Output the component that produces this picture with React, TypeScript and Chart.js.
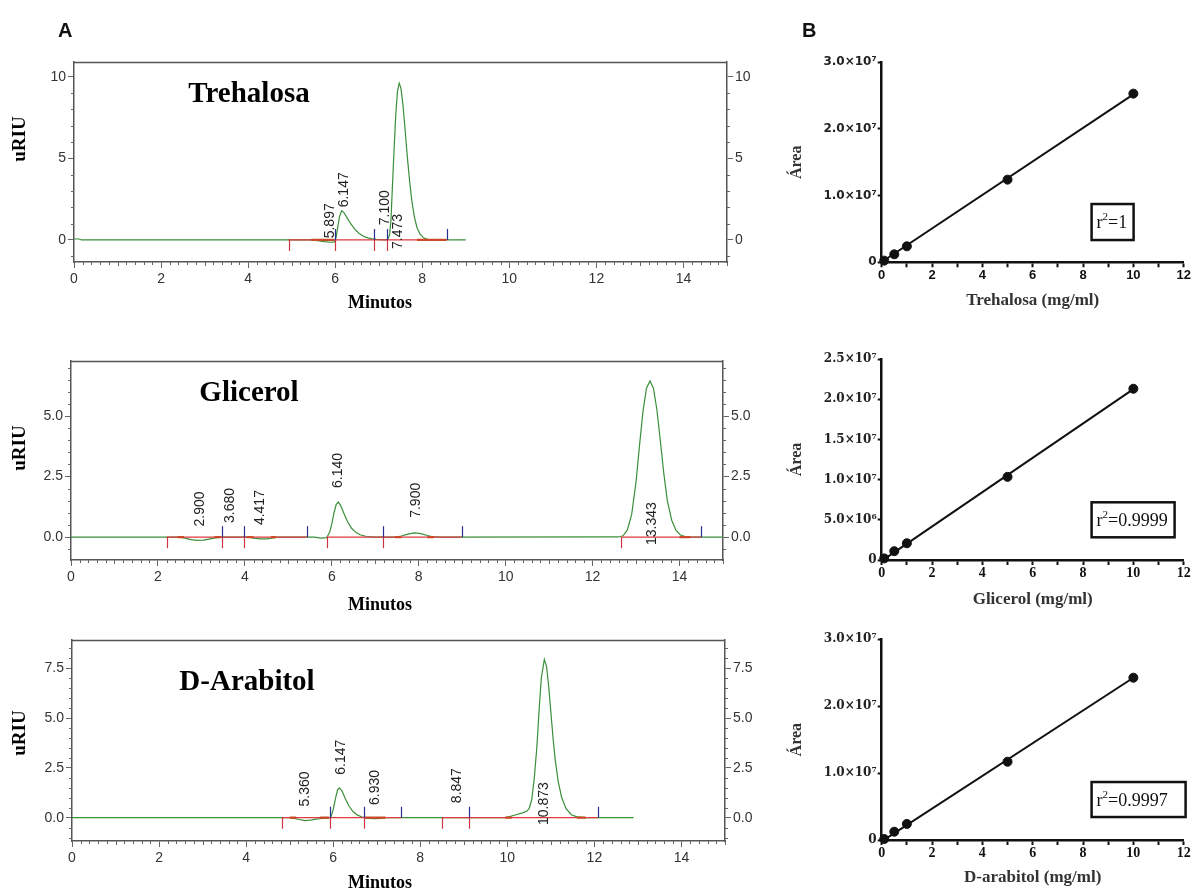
import { useEffect, useRef } from 'react';
import { Chart, registerables } from 'chart.js';

Chart.register(...registerables);

type Pt = [number, number];

// ================= DATA =================
// ---- Panel A: chromatogram traces (time in min, signal in uRIU) ----
const trehalosaTrace: Pt[] = [
  [0, 0.06], [0.12, 0.06], [0.17, 0], [1, 0], [3, 0], [5.45, 0], [5.6, -0.04], [5.75, -0.1], [5.9, -0.14], [5.98, -0.12],
  [6.02, 0.15], [6.06, 0.8], [6.1, 1.45], [6.15, 1.79], [6.2, 1.68], [6.28, 1.32], [6.36, 0.98], [6.45, 0.66], [6.55, 0.4],
  [6.65, 0.23], [6.75, 0.13], [6.85, 0.07], [6.95, 0.04], [7.05, 0.02], [7.15, 0], [7.2, 0.02], [7.25, 0.3], [7.28, 1.2],
  [7.31, 3.0], [7.35, 5.4], [7.39, 7.6], [7.43, 9.1], [7.47, 9.6], [7.51, 9.3], [7.56, 8.2], [7.61, 6.6], [7.66, 5.0],
  [7.71, 3.6], [7.76, 2.4], [7.82, 1.4], [7.88, 0.75], [7.95, 0.35], [8.03, 0.13], [8.12, 0.04], [8.25, 0.01], [8.5, 0], [9.0, 0],
];
const trehalosaBaselines: Pt[] = [[4.93, 8.57]];
const trehalosaFills: Pt[] = [[5.45, 5.97], [7.88, 8.55]];
const trehalosaRedMarks = [4.93, 6.0, 6.9, 7.19];
const trehalosaBlueMarks = [6.0, 6.9, 7.19, 8.57];
const trehalosaRtText = ['5.897', '6.147', '7.100', '7.473'];
const trehalosaRtX = [5.89, 6.2, 7.15, 7.45];
const trehalosaRtY = [0.1, 2.0, 0.9, -0.55];

const glicerolTrace: Pt[] = [
  [0, 0], [2, 0], [2.5, 0], [2.6, -0.03], [2.75, -0.1], [2.9, -0.13], [3.05, -0.12], [3.2, -0.07], [3.35, -0.02], [3.5, 0],
  [4.1, 0], [4.2, -0.04], [4.35, -0.07], [4.5, -0.07], [4.65, -0.03], [4.75, 0], [5.6, 0], [5.75, -0.04], [5.88, -0.02],
  [5.95, 0.2], [6.0, 0.55], [6.05, 1.0], [6.1, 1.35], [6.15, 1.45], [6.2, 1.32], [6.28, 0.98], [6.36, 0.65], [6.45, 0.38],
  [6.55, 0.2], [6.65, 0.1], [6.8, 0.03], [7.0, 0], [7.45, 0], [7.6, 0.05], [7.75, 0.13], [7.9, 0.18], [8.05, 0.15],
  [8.2, 0.07], [8.35, 0.01], [8.5, 0], [12.6, 0.01], [12.7, 0.06], [12.8, 0.3], [12.9, 0.95], [13.0, 2.3], [13.08, 3.8],
  [13.16, 5.2], [13.24, 6.15], [13.32, 6.45], [13.4, 6.15], [13.48, 5.25], [13.56, 3.95], [13.64, 2.6], [13.72, 1.5],
  [13.82, 0.7], [13.92, 0.28], [14.02, 0.09], [14.15, 0.02], [14.3, 0], [15, 0],
];
const glicerolBaselines: Pt[] = [[2.2, 5.43], [5.88, 8.99], [12.66, 14.5]];
const glicerolFills: Pt[] = [[2.45, 2.6], [3.3, 3.45], [4.05, 4.2], [4.6, 4.72], [7.45, 7.6], [8.2, 8.35], [14.0, 14.25]];
const glicerolRedMarks = [2.2, 3.48, 3.98, 5.88, 7.18, 12.66];
const glicerolBlueMarks = [3.48, 3.98, 5.43, 7.18, 8.99, 14.5];
const glicerolRtText = ['2.900', '3.680', '4.417', '6.140', '7.900', '13.343'];
const glicerolRtX = [2.97, 3.67, 4.36, 6.14, 7.93, 13.38];
const glicerolRtY = [0.44, 0.59, 0.5, 2.03, 0.8, -0.32];

const arabitolTrace: Pt[] = [
  [0, 0], [2, 0], [4.8, 0], [5.0, 0], [5.1, -0.03], [5.22, -0.09], [5.35, -0.15], [5.48, -0.12], [5.6, -0.07], [5.75, -0.04],
  [5.88, -0.04], [5.95, 0.05], [6.0, 0.4], [6.05, 0.95], [6.1, 1.4], [6.14, 1.5], [6.2, 1.35], [6.28, 0.95], [6.36, 0.6],
  [6.45, 0.32], [6.55, 0.14], [6.65, 0.05], [6.72, 0], [6.8, -0.04], [6.95, -0.05], [7.1, -0.04], [7.2, 0], [9.95, 0],
  [10.05, 0.05], [10.2, 0.15], [10.35, 0.24], [10.45, 0.33], [10.5, 0.45], [10.56, 0.9], [10.62, 2.0], [10.68, 3.6],
  [10.73, 5.4], [10.78, 7.0], [10.85, 7.95], [10.9, 7.6], [10.95, 6.6], [11.0, 5.3], [11.05, 4.0], [11.1, 2.9], [11.17, 1.8],
  [11.25, 1.0], [11.35, 0.45], [11.47, 0.15], [11.6, 0.04], [11.8, 0], [12.9, 0],
];
const arabitolBaselines: Pt[] = [[4.82, 7.56], [8.5, 12.08]];
const arabitolFills: Pt[] = [[5.0, 5.15], [5.7, 5.9], [6.72, 7.2], [9.95, 10.1], [11.6, 11.8]];
const arabitolRedMarks = [4.82, 5.93, 6.71, 8.5, 9.13];
const arabitolBlueMarks = [5.93, 6.71, 7.56, 9.13, 12.08];
const arabitolRtText = ['5.360', '6.147', '6.930', '8.847', '10.873'];
const arabitolRtX = [5.35, 6.18, 6.97, 8.84, 10.85];
const arabitolRtY = [0.56, 2.16, 0.64, 0.73, -0.37];

// ---- Panel B: calibration curves ----
const concentration = [0.1, 0.5, 1, 5, 10];
const trehalosaArea = [0.25e6, 1.2e6, 2.4e6, 12.4e6, 25.3e6];
const glicerolArea = [0.2e6, 1.1e6, 2.08e6, 10.34e6, 21.3e6];
const arabitolArea = [0.15e6, 1.24e6, 2.4e6, 11.7e6, 24.26e6];
const fitConc = [0, 10];
const trehalosaFit = [0.05e6, 25.2e6];
const glicerolFit = [-0.1e6, 21.25e6];
const arabitolFit = [-0.2e6, 24.25e6];
const r2Values = ['1', '0.9999', '0.9997'];

// ================= LAYOUT / STYLE =================
const SANS = '"Liberation Sans", Arial, sans-serif';
const SERIF = '"Liberation Serif", "Times New Roman", serif';

const chromPanels = [
  {
    left: 0, top: 0, w: 770, h: 320, padTop: 62, leftW: 74, rightW: 43, bottomH: 58,
    yMin: -1.35, yMax: 10.9, yStep: 5, yMinor: 1, yDecimals: 0,
    title: 'Trehalosa', titleX: 249, titleBase: 102, yTitleY: 139, xTitleY: 303, letter: 'A',
    trace: trehalosaTrace, baselines: trehalosaBaselines, fills: trehalosaFills,
    red: trehalosaRedMarks, blue: trehalosaBlueMarks, rtText: trehalosaRtText, rtX: trehalosaRtX, rtY: trehalosaRtY,
  },
  {
    left: 0, top: 320, w: 770, h: 300, padTop: 41, leftW: 71, rightW: 47, bottomH: 60,
    yMin: -0.94, yMax: 7.27, yStep: 2.5, yMinor: 0.5, yDecimals: 1,
    title: 'Glicerol', titleX: 249, titleBase: 401, yTitleY: 448, xTitleY: 605, letter: '',
    trace: glicerolTrace, baselines: glicerolBaselines, fills: glicerolFills,
    red: glicerolRedMarks, blue: glicerolBlueMarks, rtText: glicerolRtText, rtX: glicerolRtX, rtY: glicerolRtY,
  },
  {
    left: 0, top: 620, w: 770, h: 270, padTop: 20, leftW: 72, rightW: 45, bottomH: 49,
    yMin: -1.17, yMax: 8.92, yStep: 2.5, yMinor: 0.5, yDecimals: 1,
    title: 'D-Arabitol', titleX: 247, titleBase: 690, yTitleY: 733, xTitleY: 883, letter: '',
    trace: arabitolTrace, baselines: arabitolBaselines, fills: arabitolFills,
    red: arabitolRedMarks, blue: arabitolBlueMarks, rtText: arabitolRtText, rtX: arabitolRtX, rtY: arabitolRtY,
  },
];

const calibPanels = [
  {
    left: 770, top: 0, w: 422, h: 320, padTop: 62.3, padRight: 8.3, leftW: 111.7, bottomH: 57.7,
    yMax: 3e7, yStep: 1e7, xTitle: 'Trehalosa (mg/ml)', xTitlePad: 8.7, sans: true,
    area: trehalosaArea, fit: trehalosaFit, r2: r2Values[0], boxX: 8.34, boxY: 0.604e7, boxW: 42, boxH: 36, letter: 'B',
  },
  {
    left: 770, top: 320, w: 422, h: 300, padTop: 39, padRight: 8.3, leftW: 111.7, bottomH: 60,
    yMax: 2.5e7, yStep: 5e6, xTitle: 'Glicerol (mg/ml)', xTitlePad: 10.4, sans: false,
    area: glicerolArea, fit: glicerolFit, r2: r2Values[1], boxX: 8.34, boxY: 0.5e7, boxW: 83, boxH: 35, letter: '',
  },
  {
    left: 770, top: 620, w: 422, h: 270, padTop: 19.3, padRight: 8.3, leftW: 111.7, bottomH: 50,
    yMax: 3e7, yStep: 1e7, xTitle: 'D-arabitol (mg/ml)', xTitlePad: 2.1, sans: false,
    area: arabitolArea, fit: arabitolFit, r2: r2Values[2], boxX: 8.34, boxY: 0.605e7, boxW: 94, boxH: 35, letter: '',
  },
];

const SUP = '⁰¹²³⁴⁵⁶⁷⁸⁹';
function sci(v: number): string {
  if (Math.abs(v) < 1) return '0';
  const e = Math.floor(Math.log10(v) + 1e-9);
  const m = v / Math.pow(10, e);
  return m.toFixed(1) + '×10' + String(e).split('').map((c) => SUP[Number(c)]).join('');
}

function segData(segs: Pt[]) {
  const out: any[] = [];
  segs.forEach(([a, b]) => {
    if (out.length) out.push({ x: a, y: null });
    out.push({ x: a, y: 0 }, { x: b, y: 0 });
  });
  return out;
}

function makeChrom(canvas: HTMLCanvasElement, p: any) {
  const frame = '#555';
  const plugin = {
    id: 'chromExtras',
    afterDatasetsDraw(chart: any) {
      const { ctx, scales } = chart;
      const xs = scales.x, ys = scales.y;
      const y0 = ys.getPixelForValue(0);
      ctx.save();
      ctx.lineWidth = 1.2;
      ctx.strokeStyle = '#cc3344';
      p.red.forEach((t: number) => {
        const x = Math.round(xs.getPixelForValue(t)) + 0.5;
        ctx.beginPath(); ctx.moveTo(x, y0); ctx.lineTo(x, y0 + 11); ctx.stroke();
      });
      ctx.strokeStyle = '#27308f';
      p.blue.forEach((t: number) => {
        const x = Math.round(xs.getPixelForValue(t)) + 0.5;
        ctx.beginPath(); ctx.moveTo(x, y0); ctx.lineTo(x, y0 - 11); ctx.stroke();
      });
      ctx.fillStyle = '#222';
      ctx.font = '14px ' + SANS;
      ctx.textAlign = 'left';
      ctx.textBaseline = 'middle';
      p.rtText.forEach((s: string, i: number) => {
        const x = xs.getPixelForValue(p.rtX[i]);
        const y = ys.getPixelForValue(p.rtY[i]);
        ctx.save(); ctx.translate(x, y); ctx.rotate(-Math.PI / 2); ctx.fillText(s, 0, 0); ctx.restore();
      });
      ctx.restore();
    },
    afterDraw(chart: any) {
      const { ctx, chartArea: a, scales } = chart;
      const xs = scales.x, ys = scales.y;
      ctx.save();
      // top frame line
      ctx.strokeStyle = frame; ctx.lineWidth = 1.5;
      ctx.beginPath(); ctx.moveTo(a.left, Math.round(a.top) + 0.5); ctx.lineTo(a.right, Math.round(a.top) + 0.5); ctx.stroke();
      // minor ticks
      ctx.lineWidth = 1; ctx.strokeStyle = '#666';
      for (let i = 0; i <= 75; i++) {
        if (i % 10 === 0) continue;
        const x = Math.round(xs.getPixelForValue(i * 0.2)) + 0.5;
        const len = i % 5 === 0 ? 4 : 3;
        ctx.beginPath(); ctx.moveTo(x, a.bottom); ctx.lineTo(x, a.bottom + len); ctx.stroke();
      }
      const nMin = Math.ceil(p.yMin / p.yMinor), nMax = Math.floor(p.yMax / p.yMinor);
      for (let k = nMin; k <= nMax; k++) {
        const v = k * p.yMinor;
        if (Math.abs(v / p.yStep - Math.round(v / p.yStep)) < 1e-6) continue;
        const y = Math.round(ys.getPixelForValue(v)) + 0.5;
        ctx.beginPath(); ctx.moveTo(a.left, y); ctx.lineTo(a.left - 3, y); ctx.stroke();
        ctx.beginPath(); ctx.moveTo(a.right, y); ctx.lineTo(a.right + 3, y); ctx.stroke();
      }
      // texts (page coords -> canvas coords)
      const ox = p.left, oy = p.top;
      ctx.fillStyle = '#000';
      ctx.font = 'bold 29px ' + SERIF;
      ctx.textAlign = 'center'; ctx.textBaseline = 'alphabetic';
      ctx.fillText(p.title, p.titleX - ox, p.titleBase - oy);
      ctx.font = 'bold 18px ' + SERIF;
      ctx.textBaseline = 'middle';
      ctx.fillText('Minutos', 380 - ox, p.xTitleY - oy);
      ctx.save();
      ctx.translate(20 - ox, p.yTitleY - oy); ctx.rotate(-Math.PI / 2);
      ctx.font = 'bold 19px ' + SERIF;
      ctx.fillText('uRIU', 0, 0);
      ctx.restore();
      if (p.letter) {
        ctx.font = 'bold 20px ' + SANS; ctx.textAlign = 'left'; ctx.textBaseline = 'alphabetic';
        ctx.fillStyle = '#111';
        ctx.fillText(p.letter, 58 - ox, 37 - oy);
      }
      ctx.restore();
    },
  };

  const yTick = (v: any) => (p.yDecimals ? Number(v).toFixed(1) : String(Math.round(Number(v))));
  const yAxis = (position: string, width: number) => ({
    type: 'linear', position, min: p.yMin, max: p.yMax,
    afterFit: (s: any) => { s.width = width; },
    ticks: { stepSize: p.yStep, includeBounds: false, callback: yTick, color: '#333', font: { family: SANS, size: 14 }, padding: 2 },
    grid: { drawOnChartArea: false, drawTicks: true, tickLength: 6, color: '#666', tickColor: '#666', tickWidth: 1 },
    border: { display: true, color: frame, width: 1.5 },
  });

  return new Chart(canvas, {
    type: 'scatter',
    data: {
      datasets: [
        {
          data: p.trace.map(([x, y]: Pt) => ({ x, y })), showLine: true, borderColor: '#3a8f3a', borderWidth: 1.2,
          pointRadius: 0, order: 2, yAxisID: 'y',
        },
        {
          data: segData(p.fills), showLine: true, spanGaps: false, borderColor: '#b0600f', borderWidth: 2.2,
          pointRadius: 0, order: 1, yAxisID: 'y',
        },
        {
          data: segData(p.baselines), showLine: true, spanGaps: false, borderColor: '#e0393e', borderWidth: 1.2,
          pointRadius: 0, order: 0, yAxisID: 'y',
        },
      ],
    },
    options: {
      responsive: false, maintainAspectRatio: false, animation: false,
      layout: { padding: { top: p.padTop, left: 0, right: 0, bottom: 0 } },
      plugins: { legend: { display: false }, tooltip: { enabled: false } },
      scales: {
        x: {
          type: 'linear', position: 'bottom', min: 0, max: 15,
          afterFit: (s: any) => { s.height = p.bottomH; },
          ticks: {
            stepSize: 2, includeBounds: false, autoSkip: false, maxRotation: 0,
            callback: (v: any) => String(v), color: '#333', font: { family: SANS, size: 14 }, padding: 3,
          },
          grid: { drawOnChartArea: false, drawTicks: true, tickLength: 6, color: '#666', tickColor: '#666' },
          border: { display: true, color: frame, width: 1.5 },
        },
        y: yAxis('left', p.leftW),
        y2: yAxis('right', p.rightW),
      },
    } as any,
    plugins: [plugin],
  } as any);
}

function makeCalib(canvas: HTMLCanvasElement, p: any) {
  const tickFont = p.sans ? { family: '"DejaVu Sans", sans-serif', size: 12, weight: 'bold' } : { family: '"DejaVu Serif", serif', size: 12, weight: 'bold' };
  const xFont = p.sans ? { family: SANS, size: 13, weight: 'bold' } : { family: SERIF, size: 14, weight: 'bold' };
  const plugin = {
    id: 'calibExtras',
    afterDraw(chart: any) {
      const { ctx, scales } = chart;
      const xs = scales.x, ys = scales.y;
      const bx = xs.getPixelForValue(p.boxX);
      const yc = ys.getPixelForValue(p.boxY);
      ctx.save();
      ctx.strokeStyle = '#111'; ctx.lineWidth = 2.5;
      ctx.strokeRect(bx, yc - p.boxH / 2, p.boxW, p.boxH);
      ctx.fillStyle = '#111';
      ctx.textAlign = 'left'; ctx.textBaseline = 'alphabetic';
      let tx = bx + 5;
      const base = yc + 6;
      ctx.font = '18px ' + SERIF;
      ctx.fillText('r', tx, base); tx += ctx.measureText('r').width;
      ctx.font = '11px ' + SERIF;
      ctx.fillText('2', tx, base - 8); tx += ctx.measureText('2').width;
      ctx.font = '18px ' + SERIF;
      ctx.fillText('=' + p.r2, tx, base);
      if (p.letter) {
        ctx.font = 'bold 20px ' + SANS;
        ctx.fillText(p.letter, 802 - p.left, 37 - p.top);
      }
      ctx.restore();
    },
  };

  return new Chart(canvas, {
    type: 'scatter',
    data: {
      datasets: [
        {
          data: fitConc.map((x, i) => ({ x, y: p.fit[i] })), showLine: true, borderColor: '#111', borderWidth: 2,
          pointRadius: 0, order: 1, clip: false,
        },
        {
          data: concentration.map((x, i) => ({ x, y: p.area[i] })), showLine: false, pointRadius: 4.5,
          pointBackgroundColor: '#111', pointBorderColor: '#111', order: 0, clip: false,
        },
      ],
    },
    options: {
      responsive: false, maintainAspectRatio: false, animation: false,
      layout: { padding: { top: p.padTop, left: 0, right: p.padRight, bottom: 0 } },
      plugins: { legend: { display: false }, tooltip: { enabled: false } },
      scales: {
        x: {
          type: 'linear', position: 'bottom', min: 0, max: 12,
          afterFit: (s: any) => { s.height = p.bottomH; },
          ticks: {
            stepSize: 1, includeBounds: false, autoSkip: false, maxRotation: 0,
            callback: (v: any) => (Number(v) % 2 === 0 ? String(v) : ''), color: '#111', font: xFont, padding: 0,
          },
          grid: { drawOnChartArea: false, drawTicks: true, tickLength: 5, color: '#111', tickColor: '#111', tickWidth: 2 },
          border: { display: true, color: '#111', width: 2.5 },
          title: {
            display: true, text: p.xTitle, color: '#333', font: { family: SERIF, size: 17, weight: 'bold' },
            padding: { top: 0, bottom: p.xTitlePad },
          },
        },
        y: {
          type: 'linear', position: 'left', min: 0, max: p.yMax,
          afterFit: (s: any) => { s.width = p.leftW; },
          ticks: { stepSize: p.yStep, includeBounds: false, callback: (v: any) => sci(Number(v)), color: '#222', font: tickFont, padding: 1 },
          grid: { drawOnChartArea: false, drawTicks: true, tickLength: 4, color: '#111', tickColor: '#111', tickWidth: 2 },
          border: { display: true, color: '#111', width: 2.5 },
          title: {
            display: true, text: 'Área', color: '#333', font: { family: SERIF, size: 16, weight: 'bold' },
            padding: { top: 17.4, bottom: 0 },
          },
        },
      },
    } as any,
    plugins: [plugin],
  } as any);
}

const allPanels = [...chromPanels.map((p) => ({ ...p, kind: 'chrom' })), ...calibPanels.map((p) => ({ ...p, kind: 'calib' }))];

export default function App() {
  const canvases = useRef<(HTMLCanvasElement | null)[]>([]);

  useEffect(() => {
    const charts: Chart[] = [];
    allPanels.forEach((p: any, i) => {
      const c = canvases.current[i];
      if (!c) return;
      charts.push(p.kind === 'chrom' ? makeChrom(c, p) : makeCalib(c, p));
    });
    return () => charts.forEach((c) => c.destroy());
  }, []);

  return (
    <div style={{ position: 'absolute', left: 0, top: 0, width: 1192, height: 890, background: '#fff', overflow: 'hidden' }}>
      {allPanels.map((p: any, i) => (
        <canvas
          key={i}
          ref={(el) => { canvases.current[i] = el; }}
          width={p.w}
          height={p.h}
          style={{ position: 'absolute', left: p.left, top: p.top, width: p.w, height: p.h }}
        />
      ))}
    </div>
  );
}
